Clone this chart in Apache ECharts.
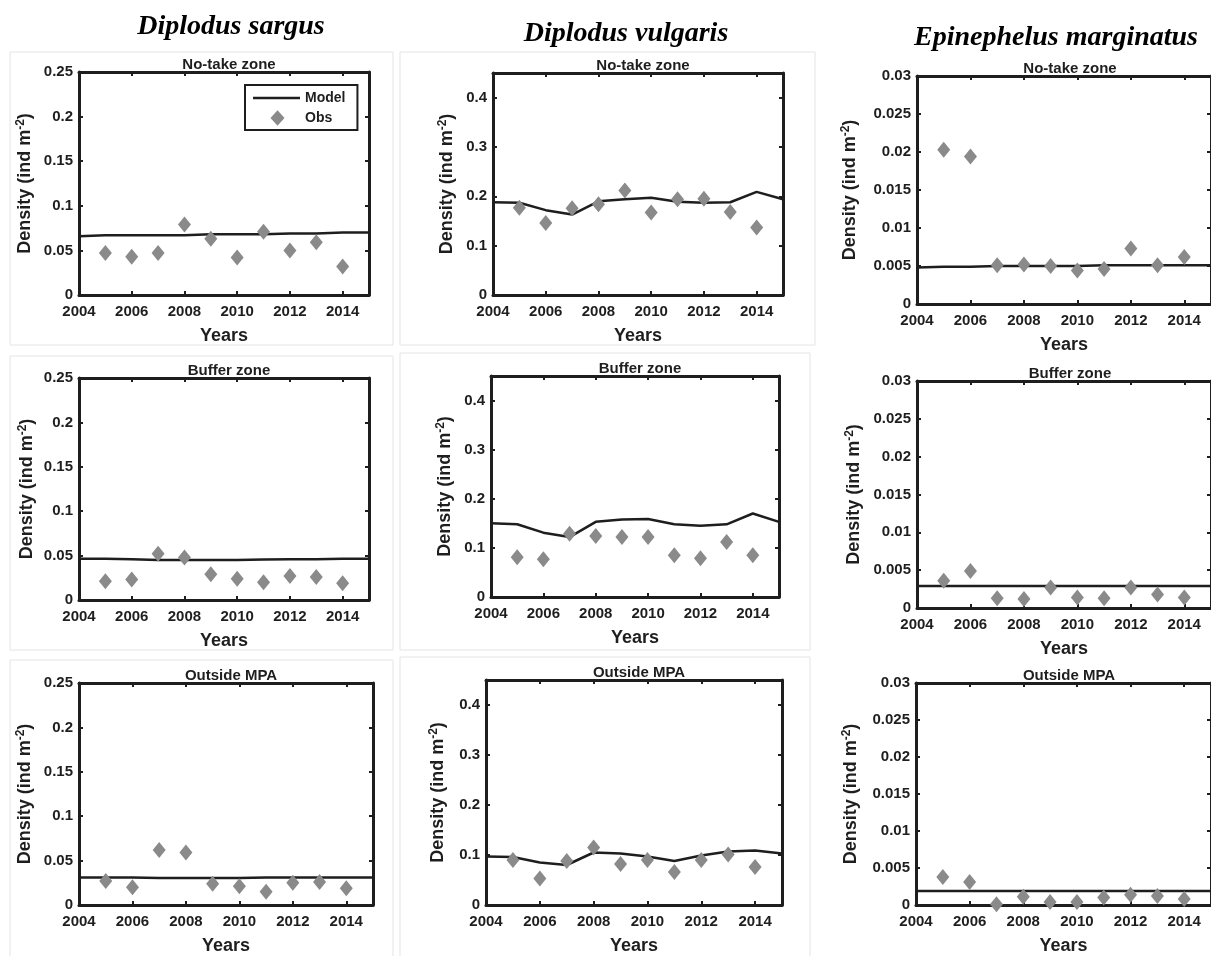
<!DOCTYPE html>
<html lang="en">
<head>
<meta charset="UTF-8">
<title>Density: model vs observations</title>
<script src="https://cdn.jsdelivr.net/npm/echarts@6/dist/echarts.min.js"></script>
<style>
  html, body { margin: 0; padding: 0; background: #fff; }
  #main { width: 1211px; height: 956px; }
</style>
</head>
<body>
<div id="main"></div>
<script>
// years of the observations and of the model run
var obsYears = [2005, 2006, 2007, 2008, 2009, 2010, 2011, 2012, 2013, 2014];
var modelYears = [2004, 2005, 2006, 2007, 2008, 2009, 2010, 2011, 2012, 2013, 2014, 2015];

var speciesNames = ['Diplodus sargus', 'Diplodus vulgaris', 'Epinephelus marginatus'];
var zoneNames = ['No-take zone', 'Buffer zone', 'Outside MPA'];

// Diplodus sargus
var sargusNoTakeObs = [0.047, 0.043, 0.047, 0.079, 0.063, 0.042, 0.071, 0.050, 0.059, 0.032];
var sargusNoTakeModel = [0.066, 0.067, 0.067, 0.067, 0.067, 0.068, 0.068, 0.068, 0.069, 0.069, 0.070, 0.070];
var sargusBufferObs = [0.021, 0.023, 0.052, 0.048, 0.029, 0.024, 0.020, 0.027, 0.026, 0.019];
var sargusBufferModel = [0.0465, 0.0465, 0.046, 0.045, 0.045, 0.045, 0.045, 0.0455, 0.046, 0.046, 0.0465, 0.0465];
var sargusOutsideObs = [0.027, 0.020, 0.062, 0.059, 0.024, 0.021, 0.015, 0.025, 0.026, 0.019];
var sargusOutsideModel = [0.031, 0.031, 0.031, 0.0305, 0.0305, 0.0305, 0.0305, 0.031, 0.031, 0.031, 0.031, 0.031];

// Diplodus vulgaris
var vulgarisNoTakeObs = [0.177, 0.146, 0.176, 0.184, 0.212, 0.167, 0.194, 0.195, 0.168, 0.137];
var vulgarisNoTakeModel = [0.188, 0.187, 0.172, 0.163, 0.190, 0.194, 0.197, 0.189, 0.187, 0.188, 0.209, 0.194];
var vulgarisBufferObs = [0.081, 0.077, 0.129, 0.124, 0.122, 0.122, 0.085, 0.079, 0.112, 0.085];
var vulgarisBufferModel = [0.150, 0.148, 0.131, 0.122, 0.153, 0.158, 0.159, 0.148, 0.145, 0.148, 0.170, 0.153];
var vulgarisOutsideObs = [0.090, 0.053, 0.088, 0.115, 0.082, 0.090, 0.066, 0.090, 0.101, 0.076];
var vulgarisOutsideModel = [0.097, 0.096, 0.085, 0.080, 0.105, 0.103, 0.097, 0.088, 0.099, 0.107, 0.109, 0.103];

// Epinephelus marginatus
var marginatusNoTakeObs = [0.0203, 0.0194, 0.0051, 0.0052, 0.0050, 0.0044, 0.0046, 0.0073, 0.0051, 0.0062];
var marginatusNoTakeModel = [0.0048, 0.0049, 0.0049, 0.0050, 0.0050, 0.0050, 0.0050, 0.0051, 0.0051, 0.0051, 0.0051, 0.0051];
var marginatusBufferObs = [0.0036, 0.0049, 0.0013, 0.0012, 0.0027, 0.0014, 0.0013, 0.0027, 0.0018, 0.0014];
var marginatusBufferModel = [0.0029, 0.0029, 0.0029, 0.0029, 0.0029, 0.0029, 0.0029, 0.0029, 0.0029, 0.0029, 0.0029, 0.0029];
var marginatusOutsideObs = [0.0038, 0.0031, 0.0001, 0.0011, 0.0004, 0.0004, 0.0010, 0.0014, 0.0012, 0.0008];
var marginatusOutsideModel = [0.0019, 0.0019, 0.0019, 0.0019, 0.0019, 0.0019, 0.0019, 0.0019, 0.0019, 0.0019, 0.0019, 0.0019];

// y axis range per species column
var yMax = [0.25, 0.45, 0.03];
var yStep = [0.05, 0.1, 0.005];
var yMaxLabel = [true, false, true];

// panels in reading order (row = zone, col = species)
var panelObs = [sargusNoTakeObs, vulgarisNoTakeObs, marginatusNoTakeObs,
                sargusBufferObs, vulgarisBufferObs, marginatusBufferObs,
                sargusOutsideObs, vulgarisOutsideObs, marginatusOutsideObs];
var panelModel = [sargusNoTakeModel, vulgarisNoTakeModel, marginatusNoTakeModel,
                  sargusBufferModel, vulgarisBufferModel, marginatusBufferModel,
                  sargusOutsideModel, vulgarisOutsideModel, marginatusOutsideModel];

// layout: [left, top, width, height, yNameGap]
var boxes = [
  [79, 72, 290, 223, 43], [493, 73, 290, 222, 35], [917, 76, 296, 228, 56],
  [79, 378, 290, 222, 41], [491, 376, 288, 221, 35], [917, 381, 296, 227, 52],
  [79, 683, 294, 224, 43], [486, 680, 296, 227, 37], [916, 683, 296, 225, 54]
];

var font = 'Liberation Sans, Arial, sans-serif';
var serif = 'Liberation Serif, Times New Roman, serif';
var ink = '#1e1e1e';
var obsGrey = '#8a8a8a';

var grids = [], xAxes = [], yAxes = [], series = [], titles = [];

var speciesPos = [[226, 8], [621, 15], [1051, 19]];
for (var s = 0; s < 3; s++) {
  titles.push({ text: speciesNames[s], left: speciesPos[s][0], top: speciesPos[s][1], textAlign: 'center',
    textStyle: { fontFamily: serif, fontStyle: 'italic', fontWeight: 'bold', fontSize: 28, color: '#000' } });
}

for (var i = 0; i < 9; i++) {
  var b = boxes[i];
  var col = i % 3, row = Math.floor(i / 3);
  grids.push({ left: b[0], top: b[1], width: b[2], height: b[3], show: false });

  titles.push({
    text: zoneNames[row], left: b[0] + b[2] / 2, top: b[1] - 20, textAlign: 'center',
    textStyle: { fontFamily: font, fontWeight: 'bold', fontSize: 15, color: ink }
  });

  var lineSide = { show: true, onZero: false, lineStyle: { color: ink, width: 3 } };
  var tickIn = { show: true, inside: true, length: 4, lineStyle: { color: ink, width: 2 } };

  // bottom axis with labels
  xAxes.push({
    gridIndex: i, type: 'value', min: 2004, max: 2015, interval: 2,
    position: 'bottom', axisLine: lineSide, axisTick: tickIn, splitLine: { show: false },
    axisLabel: { margin: 9, showMaxLabel: false, fontFamily: font, fontWeight: 'bold', fontSize: 15, color: ink,
      formatter: function (v) { return String(v); } },
    name: 'Years', nameLocation: 'middle', nameGap: 32,
    nameTextStyle: { fontFamily: font, fontWeight: 'bold', fontSize: 18, color: ink }
  });
  // top mirror
  xAxes.push({
    gridIndex: i, type: 'value', min: 2004, max: 2015, interval: 2,
    position: 'top', axisLine: lineSide, axisTick: tickIn, splitLine: { show: false },
    axisLabel: { show: false }
  });

  yAxes.push({
    gridIndex: i, type: 'value', min: 0, max: yMax[col], interval: yStep[col],
    position: 'left', axisLine: lineSide, axisTick: tickIn, splitLine: { show: false },
    axisLabel: { margin: 6, showMaxLabel: yMaxLabel[col], fontFamily: font, fontWeight: 'bold', fontSize: 15, color: ink },
    name: 'Density (ind m{sup|-2})', nameLocation: 'middle', nameRotate: 90, nameGap: b[4],
    nameTextStyle: {
      fontFamily: font, fontWeight: 'bold', fontSize: 18, color: ink,
      rich: { sup: { fontFamily: font, fontWeight: 'bold', fontSize: 12, color: ink, padding: [0, 0, 9, 0] } }
    }
  });
  yAxes.push({
    gridIndex: i, type: 'value', min: 0, max: yMax[col], interval: yStep[col],
    position: 'right', axisLine: lineSide, axisTick: tickIn, splitLine: { show: false },
    axisLabel: { show: false }
  });

  series.push({
    name: 'Model', type: 'line', xAxisIndex: 2 * i, yAxisIndex: 2 * i,
    symbol: 'none', lineStyle: { color: ink, width: 2.5 }, itemStyle: { color: ink },
    data: modelYears.map(function (y, k) { return [y, panelModel[i][k]]; }),
    z: 2, silent: true
  });
  series.push({
    name: 'Obs', type: 'scatter', xAxisIndex: 2 * i, yAxisIndex: 2 * i,
    symbol: 'diamond', symbolSize: [13, 16], itemStyle: { color: obsGrey, opacity: 1 },
    data: obsYears.map(function (y, k) { return [y, panelObs[i][k]]; }),
    z: 3, silent: true
  });
}

// faint frames of the pasted panels
var frames = [
  [10, 52, 383, 293], [10, 356, 383, 294], [10, 660, 383, 300],
  [400, 52, 415, 293], [400, 353, 410, 297], [400, 657, 410, 300]
];
var graphics = frames.map(function (f) {
  return { type: 'rect', shape: { x: f[0], y: f[1], width: f[2], height: f[3] },
    style: { fill: 'none', stroke: '#e4e4e4', lineWidth: 1 }, z: -1, silent: true };
});

// legend icons drawn in a 45x16 box (the corner dots fix the bounding box)
var modelIcon = 'path://M0,0L0.01,0L0,0.01ZM45,16L44.99,16L45,15.99ZM0,6.8L47,6.8L47,9.2L0,9.2Z';
var obsIcon = 'path://M0,0L0.01,0L0,0.01ZM45,16L44.99,16L45,15.99ZM23.5,0.3L30.5,8L23.5,15.7L16.5,8Z';

var chart = echarts.init(document.getElementById('main'), null, { renderer: 'canvas' });
chart.setOption({
  backgroundColor: '#fff',
  animation: false,
  title: titles,
  graphic: graphics,
  legend: {
    data: [{ name: 'Model', icon: modelIcon }, { name: 'Obs', icon: obsIcon }],
    orient: 'vertical', left: 245, top: 85,
    itemWidth: 47, itemHeight: 16, itemGap: 4,
    padding: [5, 12, 4, 8], borderColor: ink, borderWidth: 2, backgroundColor: '#fff',
    textStyle: { fontFamily: font, fontWeight: 'bold', fontSize: 14, color: ink },
    selectedMode: false
  },
  grid: grids,
  xAxis: xAxes,
  yAxis: yAxes,
  series: series
});
</script>
</body>
</html>
